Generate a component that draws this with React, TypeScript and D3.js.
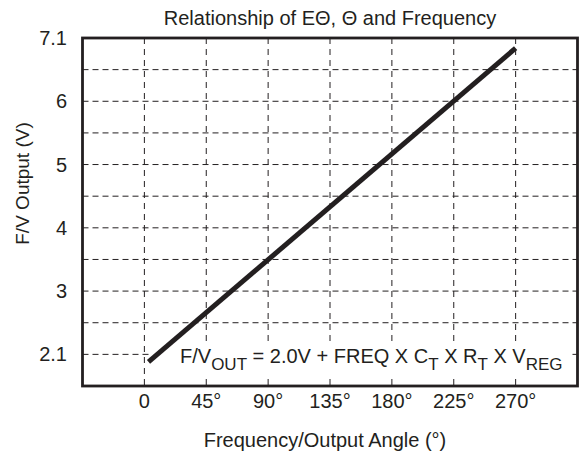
import React from "react";
import * as d3 from "d3";

const title = "Relationship of EΘ, Θ and Frequency";
const xTickValues = [0, 45, 90, 135, 180, 225, 270];
const xTickLabels = ["0", "45°", "90°", "135°", "180°", "225°", "270°"];
const yTickValues = [2, 3, 4, 5, 6, 7];
const yTickLabels = ["2.1", "3", "4", "5", "6", "7.1"];
const yGridValues = [2, 2.5, 3, 3.5, 4, 4.5, 5, 5.5, 6, 6.5];
const lineAngles = [3, 270];
const lineVolts = [1.88, 6.84];

const W = 581;
const H = 458;
const M = { left: 82.5, right: 3.5, top: 38, bottom: 72 };
const FONT = "'Liberation Sans', Arial, Helvetica, sans-serif";
const INK = "#231f20";

export default function App() {
  const x = d3.scaleLinear().domain([-45, 315]).range([M.left, W - M.right]);
  const y = d3.scaleLinear().domain([1.5, 7]).range([H - M.bottom, M.top]);
  const pts: [number, number][] = lineAngles.map((a, i) => [a, lineVolts[i]]);
  const line = d3
    .line<[number, number]>()
    .x((d) => x(d[0]))
    .y((d) => y(d[1]));
  const x0 = x(-45);
  const x1 = x(315);
  const yb = y(1.5);
  const yt = y(7);
  const sub = 17;
  const main = 20;
  return (
    <svg
      width={W}
      height={H}
      style={{ position: "fixed", left: 0, top: 0, background: "#fff" }}
      fontFamily={FONT}
    >
      <rect x={0} y={0} width={W} height={H} fill="#fff" />
      {/* grid */}
      {yGridValues.map((v) => (
        <line
          key={"h" + v}
          x1={x0}
          x2={x1}
          y1={y(v)}
          y2={y(v)}
          stroke={INK}
          strokeWidth={1}
          strokeDasharray="6,4"
        />
      ))}
      {xTickValues.map((v) => (
        <line
          key={"v" + v}
          x1={x(v)}
          x2={x(v)}
          y1={yt}
          y2={yb}
          stroke={INK}
          strokeWidth={1}
          strokeDasharray="6,5"
        />
      ))}
      {/* formula background */}
      <rect x={149} y={346} width={422} height={33} fill="#fff" />
      {/* data line */}
      <path d={line(pts) || ""} fill="none" stroke={INK} strokeWidth={5} />
      {/* frame */}
      <rect
        x={x0}
        y={yt}
        width={x1 - x0}
        height={yb - yt}
        fill="none"
        stroke={INK}
        strokeWidth={2.8}
      />
      {/* title */}
      <text x={(x0 + x1) / 2} y={25} textAnchor="middle" fontSize={20} fill={INK}>
        {title}
      </text>
      {/* y ticks */}
      {yTickValues.map((v, i) => (
        <text
          key={"yt" + v}
          x={67}
          y={y(v)}
          textAnchor="end"
          dominantBaseline="central"
          fontSize={20}
          fill={INK}
        >
          {yTickLabels[i]}
        </text>
      ))}
      {/* x ticks */}
      {xTickValues.map((v, i) => (
        <text key={"xt" + v} x={x(v)} y={408} textAnchor="middle" fontSize={20} fill={INK}>
          {xTickLabels[i]}
        </text>
      ))}
      {/* axis titles */}
      <text x={325} y={447} textAnchor="middle" fontSize={20} fill={INK}>
        Frequency/Output Angle (°)
      </text>
      <text
        transform={`translate(29,183.5) rotate(-90)`}
        textAnchor="middle"
        fontSize={19}
        fill={INK}
      >
        F/V Output (V)
      </text>
      {/* formula */}
      <text x={180} y={363} fontSize={main} fill={INK}>
        <tspan>F/V</tspan>
        <tspan fontSize={sub} dy={7}>OUT</tspan>
        <tspan dy={-7}> = 2.0V + FREQ X C</tspan>
        <tspan fontSize={sub} dy={7}>T</tspan>
        <tspan dy={-7}> X R</tspan>
        <tspan fontSize={sub} dy={7}>T</tspan>
        <tspan dy={-7}> X V</tspan>
        <tspan fontSize={sub} dy={7}>REG</tspan>
      </text>
    </svg>
  );
}
